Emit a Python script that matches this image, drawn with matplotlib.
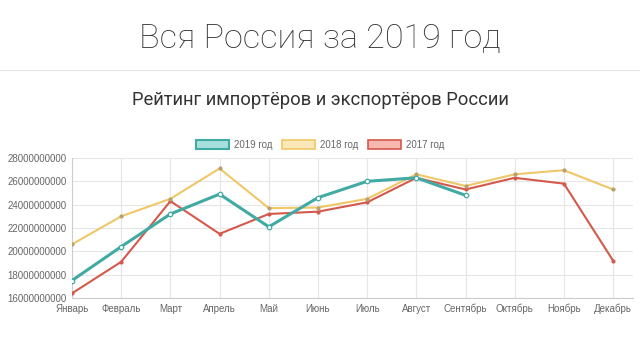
import matplotlib
matplotlib.use("Agg")
import matplotlib.pyplot as plt
from matplotlib.patches import Patch
from matplotlib.lines import Line2D

months = ["Январь", "Февраль", "Март", "Апрель", "Май", "Июнь", "Июль",
          "Август", "Сентябрь", "Октябрь", "Ноябрь", "Декабрь"]

# values in billions
y2019 = [17.5, 20.4, 23.2, 24.9, 22.1, 24.6, 26.0, 26.3, 24.8]
y2018 = [20.6, 23.0, 24.5, 27.1, 23.7, 23.75, 24.5, 26.6, 25.6, 26.6, 26.95, 25.3]
y2017 = [16.4, 19.1, 24.3, 21.5, 23.2, 23.4, 24.2, 26.3, 25.3, 26.3, 25.8, 19.2]

yticks = [16, 18, 20, 22, 24, 26, 28]

teal = "#40aaa3"
yellow = "#f0c766"
red = "#d4594b"

plt.rcParams["font.family"] = ["Liberation Sans", "DejaVu Sans"]

fig = plt.figure(figsize=(6.4, 3.6), dpi=100)

fig.text(0.5, 0.893, "Вся Россия за 2019 год", ha="center", va="center",
         fontsize=24.6, fontweight="light", color="#333333", family="Roboto")
fig.add_artist(Line2D([0, 1], [0.805, 0.805], color="#e6e6e6", lw=0.8))
fig.text(0.5, 0.722, "Рейтинг импортёров и экспортёров России", ha="center",
         va="center", fontsize=13.2, fontweight="normal", color="#333333",
         family="Roboto")

ax = fig.add_axes([0.1125, 0.1722, 0.877, 0.389])

x19 = list(range(len(y2019)))
x18 = list(range(len(y2018)))
x17 = list(range(len(y2017)))

ax.plot(x17, y2017, color=red, lw=1.5, marker="o", ms=2, mfc=red, mec=red, zorder=3)
ax.plot(x18, y2018, color=yellow, lw=1.5, marker="o", ms=2, mfc="#b8a070", mec="#b8a070", zorder=3)
ax.plot(x19, y2019, color=teal, lw=2.2, marker="o", ms=3.2, mfc="white", mec=teal, mew=0.9, zorder=4)

ax.set_xlim(0, 11.41)
ax.set_ylim(16, 28)
ax.set_xticks(range(12))
ax.set_xticklabels(months)
ax.set_yticks(yticks)
ax.set_yticklabels([str(int(v * 1e9)) for v in yticks])
ax.tick_params(labelsize=7, colors="#666666", length=0, pad=4)
ax.grid(True, color="#e6e6e6", lw=0.8)
ax.set_axisbelow(True)
for side in ["top", "right"]:
    ax.spines[side].set_visible(False)
for side in ["left", "bottom"]:
    ax.spines[side].set_color("#cccccc")
    ax.spines[side].set_linewidth(0.8)

handles = [
    Patch(facecolor="#a6dfdb", edgecolor=teal, lw=1.5, label="2019 год"),
    Patch(facecolor="#fbe8b8", edgecolor=yellow, lw=1.2, label="2018 год"),
    Patch(facecolor="#f7b8ae", edgecolor=red, lw=1.2, label="2017 год"),
]
fig.legend(handles=handles, loc="center", bbox_to_anchor=(0.5, 0.597), ncol=3,
           frameon=False, fontsize=7, handlelength=3.4, handleheight=1.0,
           columnspacing=1.0, handletextpad=0.5, labelcolor="#666666")

fig.savefig("out.png", dpi=100)
